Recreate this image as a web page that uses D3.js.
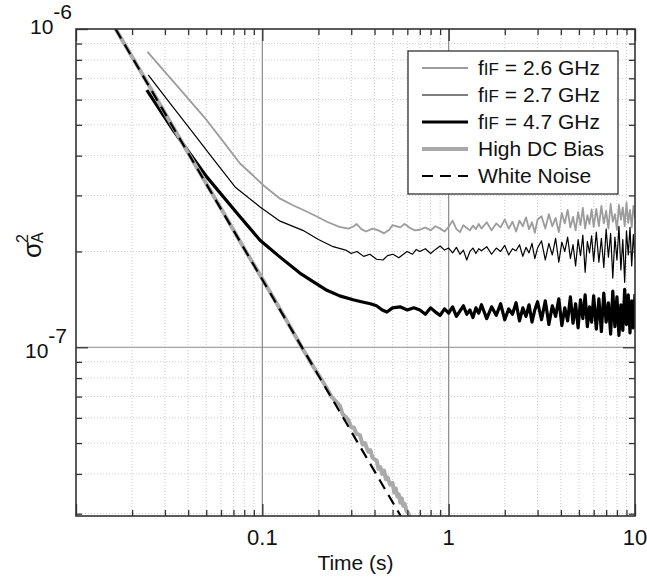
<!DOCTYPE html>
<html>
<head>
<meta charset="utf-8">
<script src="https://cdn.jsdelivr.net/npm/d3@7"></script>
<style>
  body { margin: 0; background: #fff; }
  svg { display: block; font-family: "Liberation Sans", Arial, sans-serif; }
</style>
</head>
<body>
<svg id="chart" width="647" height="578"></svg>
<script>
// values are in units of 1e-7 (sigma_A^2)
const UNIT = 1e-7;

const f26Tau = [0.0242, 0.030, 0.040, 0.0503, 0.0626, 0.0759, 0.088, 0.1012, 0.1245, 0.145, 0.166, 0.195, 0.222, 0.259, 0.29, 0.31, 0.32, 0.34, 0.36, 0.39, 0.42, 0.45, 0.48, 0.50, 0.55, 0.58, 0.62, 0.66];
const f26Val = [8.48, 7.33, 6.04, 5.17, 4.38, 3.78, 3.49, 3.23, 2.93, 2.80, 2.70, 2.58, 2.48, 2.39, 2.36, 2.40, 2.44, 2.35, 2.31, 2.36, 2.33, 2.28, 2.34, 2.42, 2.38, 2.44, 2.37, 2.33];

const f27Tau = [0.0244, 0.032, 0.042, 0.055, 0.0714, 0.0972, 0.1245, 0.165, 0.20, 0.24, 0.28, 0.30, 0.322, 0.35, 0.378, 0.41, 0.444, 0.47, 0.503, 0.54, 0.598, 0.64, 0.67];
const f27Val = [7.17, 5.84, 4.76, 3.88, 3.19, 2.76, 2.49, 2.33, 2.18, 2.07, 2.02, 1.97, 2.00, 1.93, 1.96, 1.89, 1.88, 1.94, 1.96, 1.91, 2.00, 1.96, 2.03];

const f47Tau = [0.0240, 0.0332, 0.0503, 0.073, 0.0972, 0.1245, 0.159, 0.19, 0.222, 0.26, 0.307, 0.34, 0.38, 0.41, 0.44, 0.466, 0.50, 0.548, 0.60, 0.65];
const f47Val = [6.43, 4.81, 3.43, 2.64, 2.17, 1.92, 1.71, 1.60, 1.51, 1.45, 1.41, 1.39, 1.37, 1.35, 1.31, 1.29, 1.33, 1.34, 1.31, 1.33];

// noisy tail, shared averaging times
const tailTau = [0.70, 0.75, 0.80, 0.85, 0.90, 0.95, 1.00, 1.05, 1.10, 1.15, 1.20, 1.25, 1.30, 1.35, 1.40, 1.45, 1.50,
  1.6, 1.7, 1.8, 1.9, 2.0, 2.1, 2.2, 2.3, 2.4, 2.5, 2.6, 2.7, 2.8, 2.9, 3.0,
  3.15, 3.3, 3.45, 3.6, 3.75, 3.9, 4.05, 4.2, 4.35, 4.5, 4.65, 4.8, 4.95, 5.1, 5.25, 5.4, 5.55, 5.7, 5.85, 6.0,
  6.2, 6.4, 6.6, 6.8, 7.0, 7.2, 7.4, 7.6, 7.8, 8.0, 8.2, 8.4, 8.6, 8.8, 9.0, 9.2, 9.4, 9.6, 9.8, 10.0];
const f26Tail = [2.34, 2.38, 2.33, 2.40, 2.36, 2.31, 2.39, 2.50, 2.35, 2.30, 2.42, 2.37, 2.33, 2.41, 2.35, 2.44, 2.36,
  2.47, 2.33, 2.45, 2.38, 2.52, 2.36, 2.48, 2.31, 2.50, 2.40, 2.56, 2.35, 2.47, 2.29, 2.52,
  2.58, 2.36, 2.62, 2.40, 2.55, 2.30, 2.64, 2.45, 2.70, 2.38, 2.57, 2.33, 2.66, 2.42, 2.74, 2.36, 2.60, 2.44, 2.71, 2.39,
  2.72, 2.40, 2.78, 2.45, 2.68, 2.36, 2.82, 2.48, 2.62, 2.34, 2.80, 2.52, 2.75, 2.40, 2.85, 2.46, 2.70, 2.38, 2.78, 2.55];
const f27Tail = [2.00, 2.04, 1.97, 2.03, 2.08, 2.02, 2.05, 1.98, 2.06, 1.96, 2.02, 1.88, 2.00, 2.05, 1.97, 2.04, 2.01,
  2.07, 1.96, 2.05, 2.00, 2.09, 1.95, 2.04, 2.01, 2.10, 1.93, 2.06, 1.98, 2.12, 1.90, 2.05,
  2.16, 1.88, 2.12, 1.95, 2.20, 1.85, 2.14, 2.00, 2.22, 1.90, 2.10, 1.80, 2.18, 1.94, 2.25, 1.72, 2.15, 1.98, 2.24, 1.86,
  2.30, 1.85, 2.20, 1.78, 2.35, 1.92, 2.28, 1.65, 2.22, 1.88, 2.40, 1.75, 2.18, 1.60, 2.32, 1.95, 2.38, 1.80, 2.26, 1.90];
const f47Tail = [1.31, 1.27, 1.33, 1.29, 1.26, 1.32, 1.28, 1.34, 1.25, 1.30, 1.35, 1.27, 1.31, 1.24, 1.33, 1.28, 1.36,
  1.23, 1.34, 1.26, 1.37, 1.22, 1.32, 1.27, 1.38, 1.21, 1.33, 1.25, 1.36, 1.20, 1.31, 1.39,
  1.22, 1.40, 1.18, 1.35, 1.25, 1.42, 1.17, 1.33, 1.21, 1.44, 1.19, 1.37, 1.15, 1.41, 1.23, 1.46, 1.16, 1.34, 1.20, 1.45,
  1.14, 1.42, 1.12, 1.48, 1.20, 1.38, 1.10, 1.50, 1.16, 1.44, 1.09, 1.36, 1.13, 1.52, 1.18, 1.46, 1.11, 1.40, 1.15, 1.47];

const hdcTau = [0.016, 0.025, 0.04, 0.06, 0.08, 0.10, 0.13, 0.166, 0.19, 0.21, 0.235, 0.261, 0.27, 0.28, 0.29, 0.30, 0.31, 0.32, 0.334, 0.345, 0.355,
  0.37, 0.38, 0.39, 0.40, 0.411, 0.42, 0.43, 0.44, 0.45, 0.46, 0.47, 0.485, 0.50, 0.51, 0.52, 0.53, 0.54, 0.55, 0.56, 0.57, 0.58, 0.595, 0.61, 0.625];
const hdcVal = [10.2, 6.55, 4.08, 2.73, 2.04, 1.64, 1.26, 0.98, 0.86, 0.785, 0.70, 0.655, 0.615, 0.605, 0.590, 0.560, 0.560, 0.535, 0.530, 0.495, 0.500,
  0.470, 0.475, 0.450, 0.445, 0.440, 0.415, 0.420, 0.400, 0.410, 0.385, 0.390, 0.370, 0.375, 0.350, 0.360, 0.340, 0.345, 0.325, 0.335, 0.318, 0.322, 0.305, 0.300, 0.288];

const whiteTau = [0.0163, 0.555];
const whiteVal = [10.0, 0.294];

const xTickLabels = [0.1, 1, 10];
const yTickLabels = [1e-6, 1e-7];
const legendNames = ['2.6', '2.7', '4.7', 'High DC Bias', 'White Noise'];

const svg = d3.select('#chart');
const L = 76, R = 635, T = 29, B = 516;
const x = d3.scaleLog().domain([0.01, 10]).range([L, R]);
const y = d3.scaleLog().domain([1e-6, 2.95e-8]).range([T, B]);

const isMajor = v => Math.abs(Math.log10(v) - Math.round(Math.log10(v))) < 1e-9;
const xTicks = x.ticks(), yTicks = y.ticks();
const xMinor = xTicks.filter(v => !isMajor(v)), xMajor = xTicks.filter(isMajor);
const yMinor = yTicks.filter(v => !isMajor(v)), yMajor = yTicks.filter(isMajor);

// grid
const grid = svg.append('g');
grid.selectAll('.gx').data(xMinor).join('line')
  .attr('x1', d => x(d)).attr('x2', d => x(d)).attr('y1', T).attr('y2', B)
  .attr('stroke', '#cccccc').attr('stroke-dasharray', '1,2');
grid.selectAll('.gy').data(yMinor).join('line')
  .attr('y1', d => y(d)).attr('y2', d => y(d)).attr('x1', L).attr('x2', R)
  .attr('stroke', '#cccccc').attr('stroke-dasharray', '1,2');
grid.selectAll('.gX').data([0.1, 1]).join('line')
  .attr('x1', d => x(d)).attr('x2', d => x(d)).attr('y1', T).attr('y2', B)
  .attr('stroke', '#8a8a8a').attr('stroke-width', 1.2);
grid.selectAll('.gY').data([1e-7]).join('line')
  .attr('y1', d => y(d)).attr('y2', d => y(d)).attr('x1', L).attr('x2', R)
  .attr('stroke', '#8a8a8a').attr('stroke-width', 1.2);

// curves
svg.append('clipPath').attr('id', 'clip').append('rect')
  .attr('x', L).attr('y', T).attr('width', R - L).attr('height', B - T);

const line = d3.line().x(d => x(d[0])).y(d => y(d[1] * UNIT));
const series = [
  { data: d3.zip(f26Tau.concat(tailTau), f26Val.concat(f26Tail)), color: '#9c9c9c', w: 1.8 },
  { data: d3.zip(f27Tau.concat(tailTau), f27Val.concat(f27Tail)), color: '#000', w: 1.2 },
  { data: d3.zip(f47Tau.concat(tailTau), f47Val.concat(f47Tail)), color: '#000', w: 3.2 },
  { data: d3.zip(hdcTau, hdcVal), color: '#aaaaaa', w: 4 },
  { data: d3.zip(whiteTau, whiteVal), color: '#000', w: 2.2, dash: '11,7' }
];
const plot = svg.append('g').attr('clip-path', 'url(#clip)');
series.forEach(s => {
  plot.append('path').attr('d', line(s.data)).attr('fill', 'none')
    .attr('stroke', s.color).attr('stroke-width', s.w)
    .attr('stroke-linejoin', 'round')
    .attr('stroke-dasharray', s.dash || null);
});

// ticks (inside, all four sides)
const tickStyle = g => {
  g.select('.domain').remove();
  g.selectAll('.tick line').attr('stroke', '#333').attr('stroke-width', 1.3);
  g.selectAll('.tick text').remove();
};
[[xMinor, 6], [xMajor, 12]].forEach(([vals, len]) => {
  svg.append('g').attr('transform', `translate(0,${B})`)
    .call(d3.axisBottom(x).tickValues(vals).tickSize(-len)).call(tickStyle);
  svg.append('g').attr('transform', `translate(0,${T})`)
    .call(d3.axisTop(x).tickValues(vals).tickSize(-len)).call(tickStyle);
});
[[yMinor, 6], [yMajor, 12]].forEach(([vals, len]) => {
  svg.append('g').attr('transform', `translate(${L},0)`)
    .call(d3.axisLeft(y).tickValues(vals).tickSize(-len)).call(tickStyle);
  svg.append('g').attr('transform', `translate(${R},0)`)
    .call(d3.axisRight(y).tickValues(vals).tickSize(-len)).call(tickStyle);
});

svg.append('rect').attr('x', L).attr('y', T).attr('width', R - L).attr('height', B - T)
  .attr('fill', 'none').attr('stroke', '#333').attr('stroke-width', 1.6);

// tick labels
svg.selectAll('.xl').data(xTickLabels).join('text')
  .attr('x', d => x(d)).attr('y', 545).attr('text-anchor', 'middle')
  .attr('font-size', 22).attr('fill', '#111').text(d => d);

yTickLabels.forEach(v => {
  const top = v === 1e-6;
  const t = svg.append('text').attr('x', top ? 72 : 67).attr('y', top ? y(v) + 5 : y(v) + 11)
    .attr('text-anchor', 'end').attr('font-size', 21).attr('fill', '#111');
  t.append('tspan').text('10');
  t.append('tspan').attr('dy', -15).text(String(Math.round(Math.log10(v))));
});

svg.append('text').attr('x', (L + R) / 2).attr('y', 570).attr('text-anchor', 'middle')
  .attr('font-size', 21).attr('fill', '#111').text('Time (s)');

const yl = svg.append('g').attr('transform', 'translate(41,258) rotate(-90)').attr('fill', '#111');
yl.append('text').attr('x', 0).attr('y', 0).attr('font-size', 26).text('σ');
yl.append('text').attr('x', 15).attr('y', -13).attr('font-size', 16).text('2');
yl.append('text').attr('x', 15).attr('y', 2).attr('font-size', 16).text('A');

// legend
const lg = svg.append('g');
lg.append('rect').attr('x', 408).attr('y', 51).attr('width', 210).attr('height', 143)
  .attr('fill', '#fff').attr('stroke', '#222').attr('stroke-width', 1.2);
legendNames.forEach((name, i) => {
  const s = series[i], cy = 68 + 27 * i;
  lg.append('line').attr('x1', 422).attr('x2', 468).attr('y1', cy).attr('y2', cy)
    .attr('stroke', s.color).attr('stroke-width', s.w).attr('stroke-dasharray', s.dash || null);
  const t = lg.append('text').attr('x', 478).attr('y', cy + 7).attr('font-size', 21).attr('fill', '#111');
  if (i < 3) {
    t.append('tspan').text('f');
    t.append('tspan').attr('font-size', 17).text('IF');
    t.append('tspan').text(` = ${name} GHz`);
  } else {
    t.text(name);
  }
});
</script>
</body>
</html>
